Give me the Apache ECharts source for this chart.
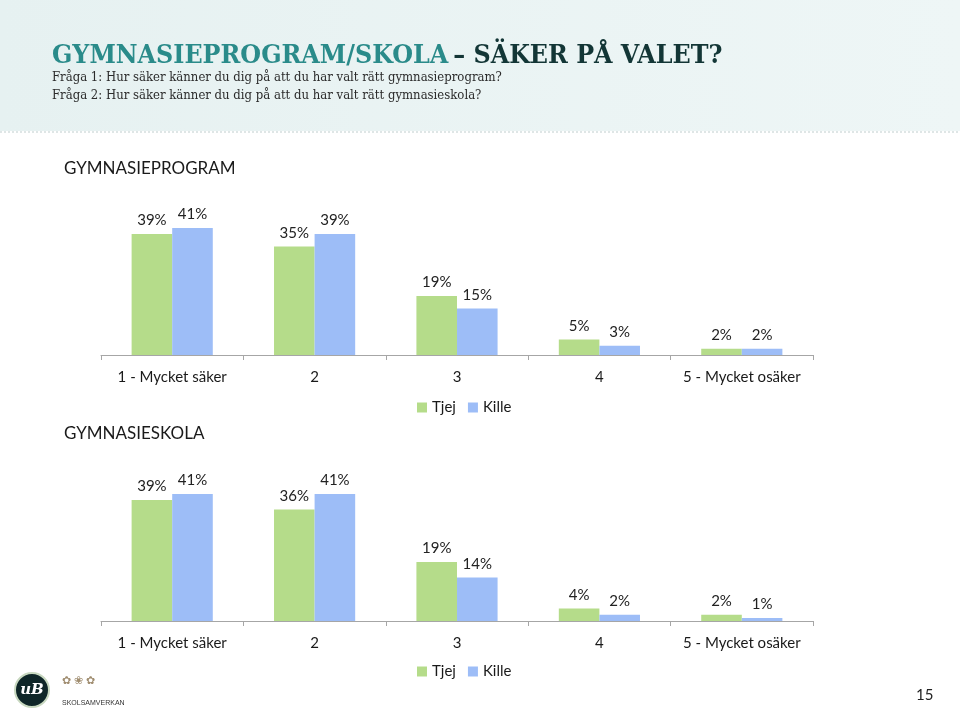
<!DOCTYPE html>
<html><head><meta charset="utf-8">
<script src="https://cdn.jsdelivr.net/npm/echarts@6/dist/echarts.min.js"></script>
<style>html,body{margin:0;padding:0;background:#fff}#c{width:960px;height:709px}</style>
</head><body><div id="c"></div>
<script>
var categories = ['1 - Mycket säker', '2', '3', '4', '5 - Mycket osäker'];
var seriesNames = ['Tjej', 'Kille'];
var programTjej = [39, 35, 19, 5, 2];
var programKille = [41, 39, 15, 3, 2];
var skolaTjej = [39, 36, 19, 4, 2];
var skolaKille = [41, 41, 14, 2, 1];

var GREEN = '#b5dc8a', BLUE = '#9dbdf7';
var chart = echarts.init(document.getElementById('c'));
var lbl = {show: true, position: 'top', distance: 6, formatter: '{c}%', color: '#222', fontSize: 15, fontFamily: 'Lato'};
function xa(gi) {
  return {type: 'category', gridIndex: gi, data: categories,
    axisLine: {lineStyle: {color: '#a6a6a6'}},
    axisTick: {show: true, length: 5, lineStyle: {color: '#a6a6a6'}},
    axisLabel: {interval: 0, color: '#1a1a1a', fontSize: 15, fontFamily: 'Lato', margin: 15}};
}
function ya(gi) {
  return {type: 'value', gridIndex: gi, min: 0, max: 50, show: false, splitLine: {show: false}};
}
function bs(name, data, gi, color) {
  return {name: name, type: 'bar', xAxisIndex: gi, yAxisIndex: gi, data: data,
    itemStyle: {color: color}, barGap: '0%', barCategoryGap: '43%', label: lbl};
}
function lg(top) {
  return {data: seriesNames, top: top, left: 412, itemWidth: 10, itemHeight: 10, itemGap: 12,
    icon: 'rect', textStyle: {fontSize: 15, color: '#1a1a1a', fontFamily: 'Lato'}, selectedMode: false};
}
chart.setOption({
  animation: false,
  graphic: [
    {type: 'rect', shape: {x: 0, y: 0, width: 960, height: 131}, style: {fill: {type: 'linear', x: 0, y: 0, x2: 1, y2: 0, colorStops: [{offset: 0, color: '#e6f1f1'}, {offset: 1, color: '#eef6f6'}]}}, z: -10},
    {type: 'line', shape: {x1: 0, y1: 132, x2: 960, y2: 132}, style: {stroke: '#dfe6e6', lineWidth: 2, lineDash: [2, 2]}, z: -9},
    {type: 'circle', shape: {cx: 32, cy: 690, r: 17}, style: {fill: '#0f2628', stroke: '#c8d8c0', lineWidth: 2}},
    {type: 'text', x: 32, y: 690, style: {text: 'uB', fill: '#fff', fontSize: 15, fontStyle: 'italic', fontWeight: 'bold', fontFamily: 'DejaVu Serif', align: 'center', verticalAlign: 'middle'}},
    {type: 'text', x: 62, y: 700, style: {text: 'SKOLSAMVERKAN', fill: '#333', fontSize: 7, fontFamily: 'Liberation Sans'}},
    {type: 'text', x: 62, y: 675, style: {text: '✿ ❀ ✿', fill: '#a08d70', fontSize: 11}},
    {type: 'text', x: 916, y: 688, style: {text: '15', fill: '#222', fontSize: 15, fontFamily: 'Lato'}}
  ],
  title: [
    {text: '{a|GYMNASIEPROGRAM/SKOLA} {b|– SÄKER PÅ VALET?}', left: 47, top: 38,
      textStyle: {rich: {
        a: {fontSize: 26.5, fontWeight: 'bold', color: '#2a8b8a', fontFamily: 'DejaVu Serif Condensed'},
        b: {fontSize: 26.5, fontWeight: 'bold', color: '#133636', fontFamily: 'DejaVu Serif Condensed'}}}},
    {text: 'Fråga 1: Hur säker känner du dig på att du har valt rätt gymnasieprogram?\nFråga 2: Hur säker känner du dig på att du har valt rätt gymnasieskola?',
      left: 47, top: 64, textStyle: {fontSize: 13, fontWeight: 'normal', color: '#2b2b2b', fontFamily: 'DejaVu Serif Condensed', lineHeight: 18}},
    {text: 'GYMNASIEPROGRAM', left: 59, top: 155, textStyle: {fontSize: 17, fontWeight: 'normal', color: '#1a1a1a', fontFamily: 'Lato'}},
    {text: 'GYMNASIESKOLA', left: 59, top: 420, textStyle: {fontSize: 17, fontWeight: 'normal', color: '#1a1a1a', fontFamily: 'Lato'}}
  ],
  legend: [lg(395), lg(659)],
  grid: [
    {left: 101, width: 712, top: 200, height: 155},
    {left: 101, width: 712, top: 466, height: 155}
  ],
  xAxis: [xa(0), xa(1)],
  yAxis: [ya(0), ya(1)],
  series: [
    bs('Tjej', programTjej, 0, GREEN), bs('Kille', programKille, 0, BLUE),
    bs('Tjej', skolaTjej, 1, GREEN), bs('Kille', skolaKille, 1, BLUE)
  ]
});
</script></body></html>
